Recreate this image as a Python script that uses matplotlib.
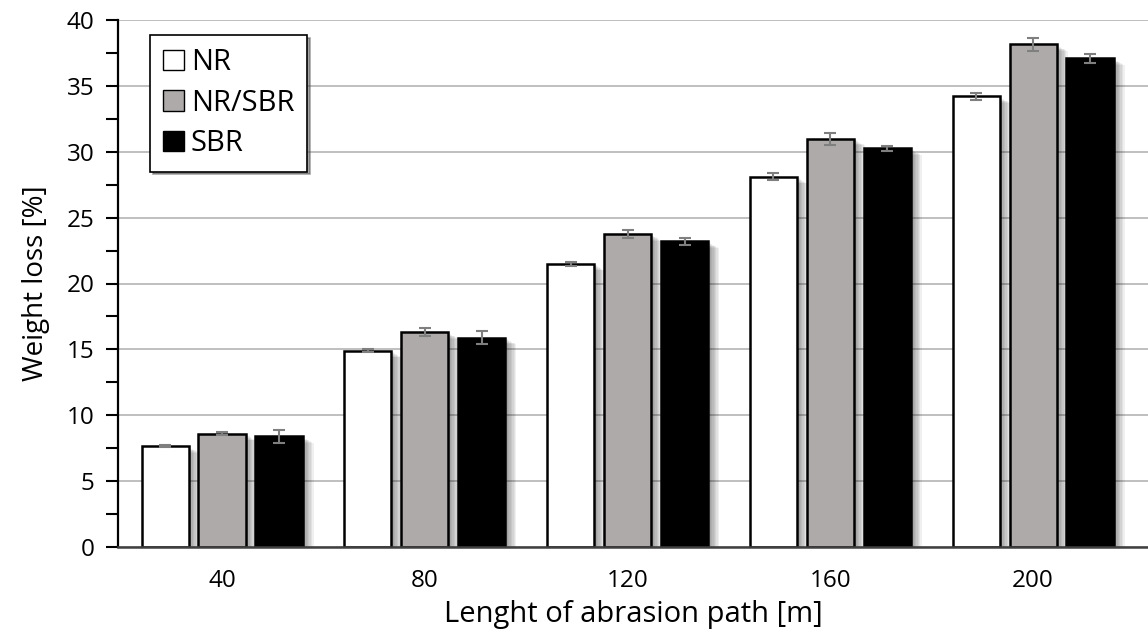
import matplotlib
matplotlib.use("Agg")
import matplotlib.pyplot as plt
import matplotlib.patheffects as pe
from matplotlib.patches import Patch
import numpy as np

plt.rcParams['font.family'] = ['Open Sans', 'DejaVu Sans']

categories = ['40', '80', '120', '160', '200']
series_names = ['NR', 'NR/SBR', 'SBR']
nr = [7.65, 14.9, 21.5, 28.1, 34.2]
nr_sbr = [8.6, 16.3, 23.75, 31.0, 38.15]
sbr = [8.4, 15.9, 23.2, 30.25, 37.1]
nr_err = [0.08, 0.1, 0.15, 0.25, 0.25]
nr_sbr_err = [0.1, 0.3, 0.3, 0.45, 0.5]
sbr_err = [0.5, 0.5, 0.25, 0.2, 0.35]

values = [nr, nr_sbr, sbr]
errors = [nr_err, nr_sbr_err, sbr_err]
colors = ['#ffffff', '#aeaaaa', '#000000']

fig = plt.figure(figsize=(11.48, 6.32), dpi=100)
ax = fig.add_axes([118/1148, 1 - 547/632, 1 - 118/1148, (547 - 20)/632])

x = np.arange(len(categories))
width = 0.232
offsets = [-0.281, 0.0, 0.281]

shadow = [pe.SimplePatchShadow(offset=(d, -d * 0.6), shadow_rgbFace='black', alpha=0.06)
          for d in (1, 2, 3, 4, 5, 6, 7, 8)] + [pe.Normal()]

for vals, errs, col, off in zip(values, errors, colors, offsets):
    bars = ax.bar(x + off, vals, width, color=col, edgecolor='black', linewidth=1.8, zorder=3)
    for b in bars:
        b.set_path_effects(shadow)
    ax.errorbar(x + off, vals, yerr=errs, fmt='none', ecolor='#7f7f7f',
                elinewidth=1.5, capsize=4, capthick=1.5, zorder=4)

ax.set_xlim(-0.513, 4.567)
ax.set_ylim(0, 40)
ax.set_yticks(np.arange(0, 41, 5))
ax.set_yticks(np.arange(2.5, 40, 5), minor=True)
ax.yaxis.grid(True, color='#b4b4b4', linewidth=1.2, zorder=0)
ax.set_axisbelow(True)
ax.set_xticks(x)
ax.set_xticklabels(categories)
ax.tick_params(axis='x', length=0, pad=16, labelsize=17.5)
ax.tick_params(axis='y', which='both', direction='out', length=9, width=1.5, pad=8, labelsize=17.5)

for s in ['top', 'right']:
    ax.spines[s].set_visible(False)
ax.spines['left'].set_linewidth(1.6)
ax.spines['left'].set_color('black')
ax.spines['bottom'].set_linewidth(1.8)
ax.spines['bottom'].set_color('#404040')
ax.spines['bottom'].set_zorder(5)

ax.set_ylabel('Weight loss [%]', fontsize=20, labelpad=12)
ax.set_xlabel('Lenght of abrasion path [m]', fontsize=21, labelpad=5)

handles = [Patch(facecolor=c, edgecolor='black', linewidth=1) for c in colors]
leg = ax.legend(handles, series_names, loc='upper left', bbox_to_anchor=(32/1030, 1 - 15/527),
                fontsize=21, frameon=True, fancybox=False, shadow=True,
                handlelength=0.7, handleheight=0.7, handletextpad=0.25,
                labelspacing=0.4, borderpad=0.45, borderaxespad=0)
leg.get_frame().set_edgecolor('black')
leg.get_frame().set_linewidth(1.2)
leg.set_zorder(10)

fig.savefig('out.png', dpi=100)
